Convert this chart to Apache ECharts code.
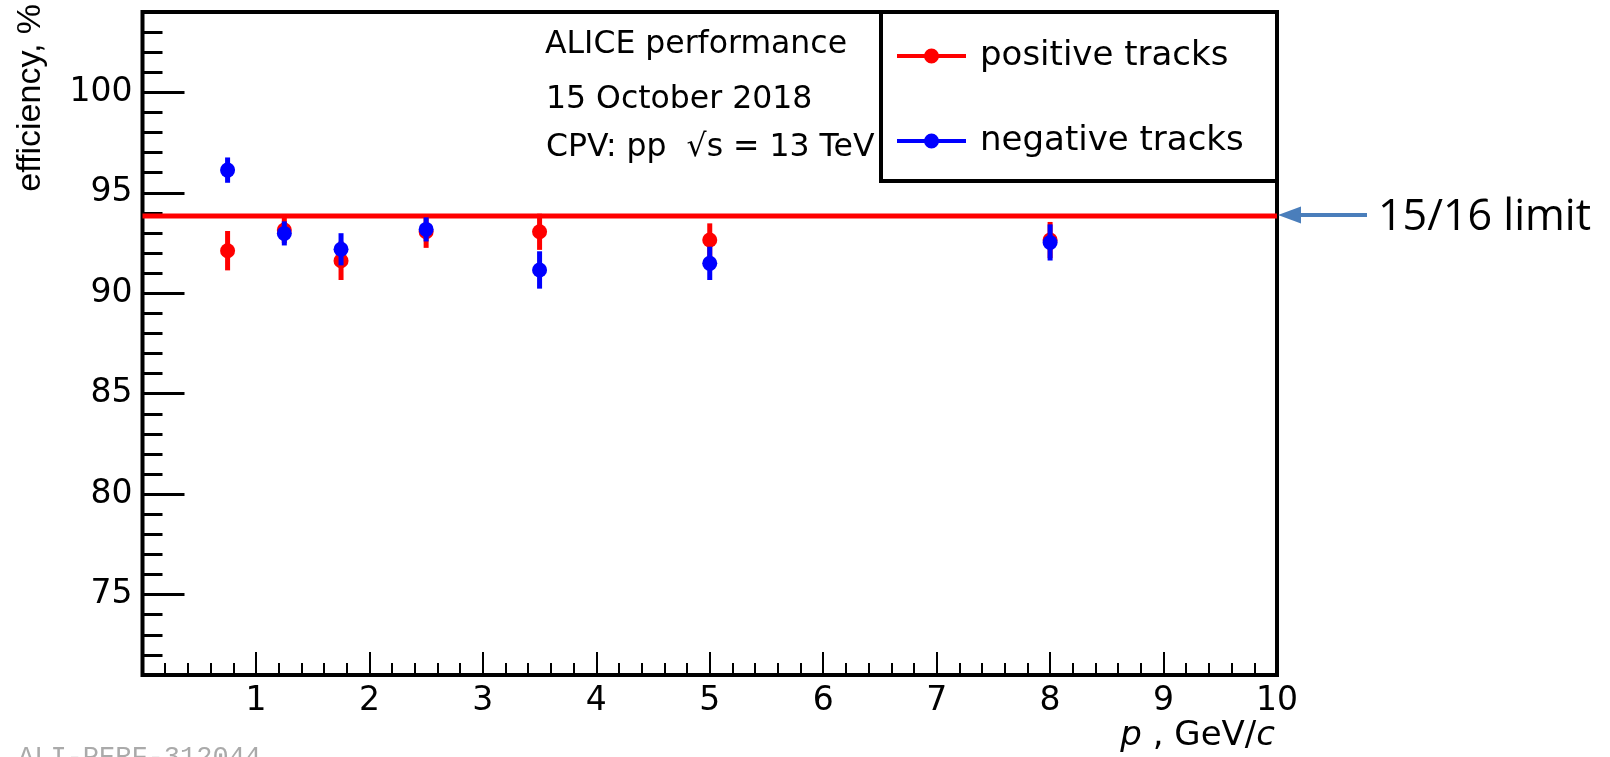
<!DOCTYPE html>
<html>
<head>
<meta charset="utf-8">
<script src="https://cdn.jsdelivr.net/npm/echarts@6/dist/echarts.min.js"></script>
<style>
html,body{margin:0;padding:0;background:#fff;}
#chart{width:1610px;height:757px;}
</style>
</head>
<body>
<div id="chart"></div>
<script>
// ---- data ----
const pValues      = [0.75, 1.25, 1.75, 2.5, 3.5, 5, 8];          // p, GeV/c
const positiveEff  = [92.12, 93.15, 91.62, 93.06, 93.06, 92.65, 92.65];
const positiveErr  = [0.98, 0.65, 0.96, 0.80, 0.90, 0.83, 0.90];
const negativeEff  = [96.13, 92.98, 92.19, 93.18, 91.16, 91.49, 92.53];
const negativeErr  = [0.63, 0.60, 0.80, 0.60, 0.93, 0.83, 0.90];
const limitValue   = 93.85;                                          // 15/16 limit line
const yMajorTicks  = [75, 80, 85, 90, 95, 100];
const seriesNames  = ['positive tracks', 'negative tracks'];
const infoLines    = ['ALICE performance', '15 October 2018', 'CPV: pp  \u221As = 13 TeV'];

const chart = echarts.init(document.getElementById('chart'), null, {renderer: 'canvas'});

function errSeries(name, color, ys, errs) {
  return {
    type: 'custom',
    name: name,
    data: pValues.map((x, i) => [x, ys[i], errs[i]]),
    encode: {x: 0, y: 1},
    itemStyle: {color: color},
    z: 5,
    renderItem: function (params, api) {
      const x = api.value(0), y = api.value(1), e = api.value(2);
      const c = api.coord([x, y]);
      const lo = api.coord([x, y - e]);
      const hi = api.coord([x, y + e]);
      return {
        type: 'group',
        children: [
          {type: 'line', shape: {x1: lo[0], y1: lo[1], x2: hi[0], y2: hi[1]},
           style: {stroke: color, lineWidth: 5}},
          {type: 'circle', shape: {cx: c[0], cy: c[1], r: 7.5}, style: {fill: color}}
        ]
      };
    }
  };
}

const legendIcon = 'path://M0,6.5H69V10.5H0Z M27,8.5A7.5,7.5 0 1 1 42,8.5A7.5,7.5 0 1 1 27,8.5Z';
const tickStyle = {color: '#000', width: 2};
const labelFont = {fontFamily: 'DejaVu Sans', fontSize: 33, color: '#000'};

const option = {
  animation: false,
  backgroundColor: '#fff',
  grid: {left: 142.5, right: 333, top: 12, bottom: 82, show: true,
         borderColor: '#000', borderWidth: 4, backgroundColor: 'transparent'},
  xAxis: {
    type: 'value', min: 0, max: 10, interval: 1,
    axisLine: {show: false}, splitLine: {show: false},
    axisTick: {inside: true, length: 23, lineStyle: tickStyle},
    minorTick: {show: true, splitNumber: 5, length: 12, lineStyle: tickStyle},
    axisLabel: Object.assign({margin: 10, formatter: v => v === 0 ? '' : String(v)}, labelFont)
  },
  yAxis: [
    {
      type: 'value', min: 71, max: 104, interval: 1, position: 'left',
      axisLine: {show: false}, splitLine: {show: false},
      axisTick: {inside: true, length: 20, lineStyle: {color: '#000', width: 3}},
      axisLabel: Object.assign({margin: 10, formatter: v => (v % 5 === 0 ? String(v) : '')}, labelFont)
    },
    {
      type: 'value', min: 71, max: 104, position: 'left', offset: 0,
      axisLine: {show: false}, splitLine: {show: false},
      axisTick: {inside: true, length: 42, customValues: yMajorTicks, lineStyle: {color: '#000', width: 3}},
      axisLabel: {show: false}
    }
  ],
  legend: {
    orient: 'vertical', left: 897, top: 36, padding: 0,
    itemWidth: 69, itemHeight: 15, itemGap: 45,
    data: seriesNames.map(n => ({name: n, icon: legendIcon})),
    textStyle: {fontFamily: 'DejaVu Sans', fontSize: 34, color: '#000', lineHeight: 40, padding: [0, 0, 0, 9]},
    selectedMode: false
  },
  series: [
    {
      type: 'line', name: 'limit', data: [[0, limitValue], [10, limitValue]],
      symbol: 'none', silent: true, z: 2,
      lineStyle: {color: '#ff0000', width: 5}
    },
    errSeries(seriesNames[0], '#ff0000', positiveEff, positiveErr),
    errSeries(seriesNames[1], '#0000ff', negativeEff, negativeErr)
  ],
  graphic: [
    {type: 'rect', shape: {x: 881, y: 12, width: 396, height: 169},
     style: {fill: null, stroke: '#000', lineWidth: 4}, z: 10},
    {type: 'text', x: 545, y: 45, style: {text: infoLines[0], fontFamily: 'DejaVu Sans', fontSize: 31.5, fill: '#000', verticalAlign: 'middle'}},
    {type: 'text', x: 546, y: 100, style: {text: infoLines[1], fontFamily: 'DejaVu Sans', fontSize: 31.5, fill: '#000', verticalAlign: 'middle'}},
    {type: 'text', x: 546, y: 148, style: {text: infoLines[2], fontFamily: 'DejaVu Sans', fontSize: 31.5, fill: '#000', verticalAlign: 'middle'}},
    {type: 'text', x: 31, y: 4, rotation: Math.PI / 2,
     style: {text: 'efficiency, %', fontFamily: 'Liberation Sans', fontSize: 34, fill: '#000', align: 'right', verticalAlign: 'middle'}},
    {type: 'text', x: 1275, y: 736,
     style: {text: '{i|p} , GeV/{i|c}', fontFamily: 'DejaVu Sans', fontSize: 34, fill: '#000', align: 'right', verticalAlign: 'middle',
             rich: {i: {fontFamily: 'DejaVu Sans', fontStyle: 'italic', fontSize: 34, fill: '#000'}}}},
    {type: 'text', x: 18, y: 744,
     style: {text: 'ALI-PERF-312044', fontFamily: 'Liberation Mono', fontSize: 27, fill: '#aaaaaa', verticalAlign: 'top'}},
    {type: 'line', shape: {x1: 1367, y1: 215, x2: 1298, y2: 215}, style: {stroke: '#4a7ebb', lineWidth: 4}},
    {type: 'polygon', shape: {points: [[1278, 215], [1301, 206.5], [1301, 223.5]]}, style: {fill: '#4a7ebb'}},
    {type: 'text', x: 1378, y: 218,
     style: {text: '15/16 limit', fontFamily: 'Open Sans', fontSize: 43, fill: '#000', verticalAlign: 'middle'}}
  ]
};
chart.setOption(option);
</script>
</body>
</html>
